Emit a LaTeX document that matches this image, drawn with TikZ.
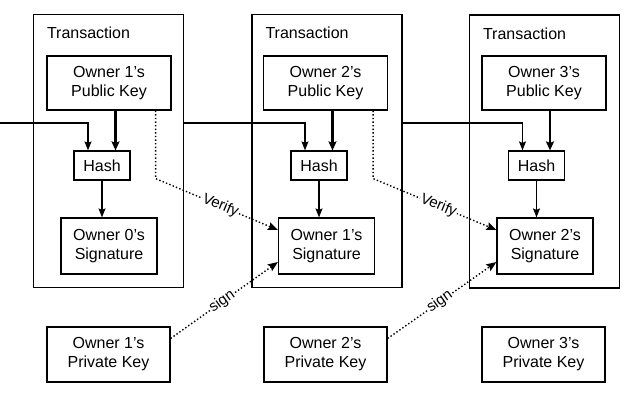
\documentclass[tikz,border=0pt]{standalone}
\usepackage{fontspec}
\setmainfont{Liberation Sans}
\usetikzlibrary{calc, positioning, arrows.meta}

\begin{document}
\begin{tikzpicture}[x=1pt, y=-1pt,
    txbox/.style={draw, rectangle, line width=1.3pt, minimum width=150pt, minimum height=273pt, inner sep=0pt},
    txlabel/.style={anchor=north west, inner sep=0pt, font=\fontsize{16}{19}\selectfont},
    keybox/.style={draw, rectangle, line width=1.2pt, align=center, inner sep=0pt, fill=white, font=\fontsize{16}{19}\selectfont},
    hashbox/.style={keybox, minimum width=56pt, minimum height=29pt},
    pubbox/.style={keybox, minimum width=124pt, minimum height=54pt},
    sigbox/.style={keybox, minimum width=96pt, minimum height=56pt},
    privbox/.style={keybox, minimum width=123pt, minimum height=55pt},
    link/.style={line width=1.1pt, -{Stealth[length=9pt, width=7pt, inset=1.5pt]}},
    keylink/.style={line width=2.6pt, -{Stealth[length=9pt, width=8pt, inset=1.5pt]}},
    dotlink/.style={line width=1.4pt, dash pattern=on 1.4pt off 2.2pt, -{Stealth[length=10pt, width=8pt, inset=1.5pt]}},
    dotlabel/.style={sloped, fill=white, inner sep=1pt, font=\fontsize{15}{15}\selectfont}
  ]
  \useasboundingbox (0, 0) rectangle (625, 413);

  \node[txbox] (tx1) at (108.5, 151) {};
  \node[txbox] (tx2) at (327, 151) {};
  \node[txbox] (tx3) at (544.5, 151.5) {};
  \node[txlabel, below right=13pt and 14pt of tx1.north west] (txl1) {Transaction};
  \node[txlabel, below right=13pt and 14pt of tx2.north west] (txl2) {Transaction};
  \node[txlabel, below right=13pt and 14pt of tx3.north west] (txl3) {Transaction};

  \node[pubbox] (pub1) at (109, 83) {Owner 1's\\Public Key};
  \node[pubbox] (pub2) at (325.5, 83) {Owner 2's\\Public Key};
  \node[pubbox] (pub3) at (544, 83) {Owner 3's\\Public Key};

  \node[hashbox] (hash1) at (102, 165.5) {Hash};
  \node[hashbox] (hash2) at (319, 165.5) {Hash};
  \node[hashbox] (hash3) at (536.5, 165.5) {Hash};

  \node[sigbox] (sig1) at (109, 246) {Owner 0's\\Signature};
  \node[sigbox] (sig2) at (326.5, 246) {Owner 1's\\Signature};
  \node[sigbox] (sig3) at (545, 246) {Owner 2's\\Signature};

  \node[privbox] (priv1) at (108.5, 354.5) {Owner 1's\\Private Key};
  \node[privbox] (priv2) at (325.5, 354.5) {Owner 2's\\Private Key};
  \node[privbox] (priv3) at (543.5, 354.5) {Owner 3's\\Private Key};

  \coordinate (prev) at (0, 123);
  \draw[link] (prev) -| ([xshift=-14pt]hash1.north);
  \draw[link] (tx1.east |- prev) -| ([xshift=-14pt]hash2.north);
  \draw[link] (tx2.east |- prev) -| ([xshift=-14pt]hash3.north);

  \draw[keylink] ([xshift=13.5pt]hash1.north |- pub1.south) -- ([xshift=13.5pt]hash1.north);
  \draw[keylink] ([xshift=13.5pt]hash2.north |- pub2.south) -- ([xshift=13.5pt]hash2.north);
  \draw[keylink] ([xshift=13.5pt]hash3.north |- pub3.south) -- ([xshift=13.5pt]hash3.north);

  \draw[link] (hash1.south) -- (hash1.south |- sig1.north);
  \draw[link] (hash2.south) -- (hash2.south |- sig2.north);
  \draw[link] (hash3.south) -- (hash3.south |- sig3.north);

  \draw[dotlink] ([xshift=-16pt]pub1.south east) -- ++(0, 68) -- ([yshift=16pt]sig2.west) node[dotlabel, pos=0.53] {Verify};
  \draw[dotlink] ([xshift=-15pt]pub2.south east) -- ++(0, 68) -- ([yshift=16pt]sig3.west) node[dotlabel, pos=0.53] {Verify};

  \draw[dotlink] ([yshift=16pt]priv1.east) -- ([yshift=-16pt]sig2.west) node[dotlabel, pos=0.48] {sign};
  \draw[dotlink] ([yshift=16pt]priv2.east) -- ([yshift=-16pt]sig3.west) node[dotlabel, pos=0.48] {sign};
\end{tikzpicture}
\end{document}
